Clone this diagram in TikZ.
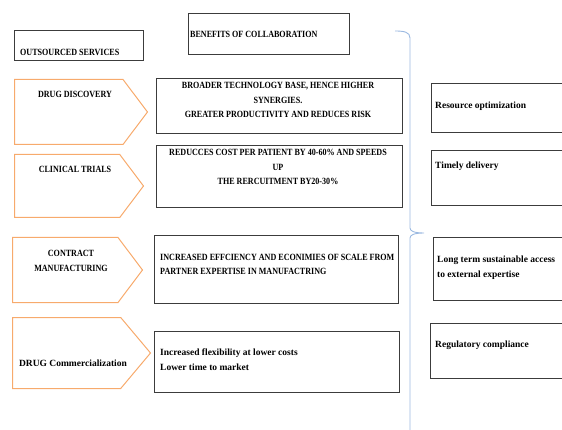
\documentclass[tikz,border=0pt]{standalone}
\usepackage{fontspec}
\setmainfont{Liberation Serif}
\newfontfamily\capsfont{Liberation Serif}[FakeStretch=0.85]
\usetikzlibrary{positioning,shapes.symbols}
\definecolor{chevorange}{RGB}{247,170,108}
\definecolor{braceblue}{RGB}{155,185,225}
\definecolor{boxgray}{RGB}{60,60,60}
\begin{document}
\begin{tikzpicture}[x=1pt,y=-1pt,
        box/.style={draw=boxgray, line width=0.8pt, rectangle, anchor=north west, inner sep=0pt},
        chev/.style={draw=chevorange, line width=1pt, signal, signal to=east, signal pointer angle=106, anchor=west, inner sep=0pt},
        caps/.style={font=\capsfont\bfseries\fontsize{9.5}{14.5}\selectfont, align=center, inner sep=0pt},
        plain/.style={font=\bfseries\fontsize{9.5}{15}\selectfont, align=left, inner sep=0pt, anchor=west}]
    \clip (0,0) rectangle (562,430);

    % headings
    \node[box, minimum width=129, minimum height=30] (outsrc) at (14,30) {};
    \node[caps, anchor=west] (outsrctxt) at (20,52) {OUTSOURCED SERVICES};
    \node[box, minimum width=161, minimum height=41] (benefit) at (188,13) {};
    \node[caps, anchor=west] (benefittxt) at (190,34) {BENEFITS OF COLLABORATION};

    % outsourced services
    \node[chev, minimum width=133, minimum height=65] (discovery) at (14,112) {};
    \node[caps] (discoverytxt) at (75,94) {DRUG DISCOVERY};
    \node[chev, minimum width=129, minimum height=63] (clinical) at (14,186) {};
    \node[caps] (clinicaltxt) at (75,169) {CLINICAL TRIALS};
    \node[chev, minimum width=130, minimum height=65] (contract) at (12,270) {};
    \node[caps] (contracttxt) at (71,261) {CONTRACT\\MANUFACTURING};
    \node[chev, signal pointer angle=100, minimum width=138, minimum height=71] (commerce) at (12,353) {};
    \node[plain, anchor=center] (commercetxt) at (73,363) {DRUG Commercialization};

    % benefits
    \node[box, minimum width=246, minimum height=55] (gain1) at (156,78) {};
    \node[caps] (gain1txt) at (278,100) {BROADER TECHNOLOGY BASE, HENCE HIGHER\\SYNERGIES.\\GREATER PRODUCTIVITY AND REDUCES RISK};
    \node[box, minimum width=246, minimum height=62] (gain2) at (156,145) {};
    \node[caps] (gain2txt) at (278,167) {REDUCCES COST PER PATIENT BY 40-60\% AND SPEEDS\\UP\\THE RERCUITMENT BY20-30\%};
    \node[box, minimum width=244, minimum height=68] (gain3) at (154,235) {};
    \node[caps, align=left, anchor=west] (gain3txt) at (160,264.5) {INCREASED EFFCIENCY AND ECONIMIES OF SCALE FROM\\PARTNER EXPERTISE IN MANUFACTRING};
    \node[box, minimum width=245, minimum height=61] (gain4) at (154,331) {};
    \node[plain] (gain4txt) at (160,359.5) {Increased flexibility at lower costs\\Lower time to market};

    % brace
    \draw[braceblue, line width=0.9pt] (395,31) .. controls (404,31) and (410,32) .. (410,38) -- (410,228)
        .. controls (410,231) and (414,233) .. (424,233) .. controls (414,233) and (410,235) .. (410,238) -- (410,432);

    % outcomes
    \node[box, minimum width=150, minimum height=49] (res) at (431,83) {};
    \node[plain] (restxt) at (435,106) {Resource optimization};
    \node[box, minimum width=150, minimum height=55] (time) at (431,150) {};
    \node[plain] (timetxt) at (435,166) {Timely delivery};
    \node[box, minimum width=150, minimum height=63] (access) at (433,237) {};
    \node[plain] (accesstxt) at (437,268) {Long term sustainable access\\to external expertise};
    \node[box, minimum width=150, minimum height=55] (reg) at (430,323) {};
    \node[plain] (regtxt) at (435,345) {Regulatory compliance};
\end{tikzpicture}
\end{document}
